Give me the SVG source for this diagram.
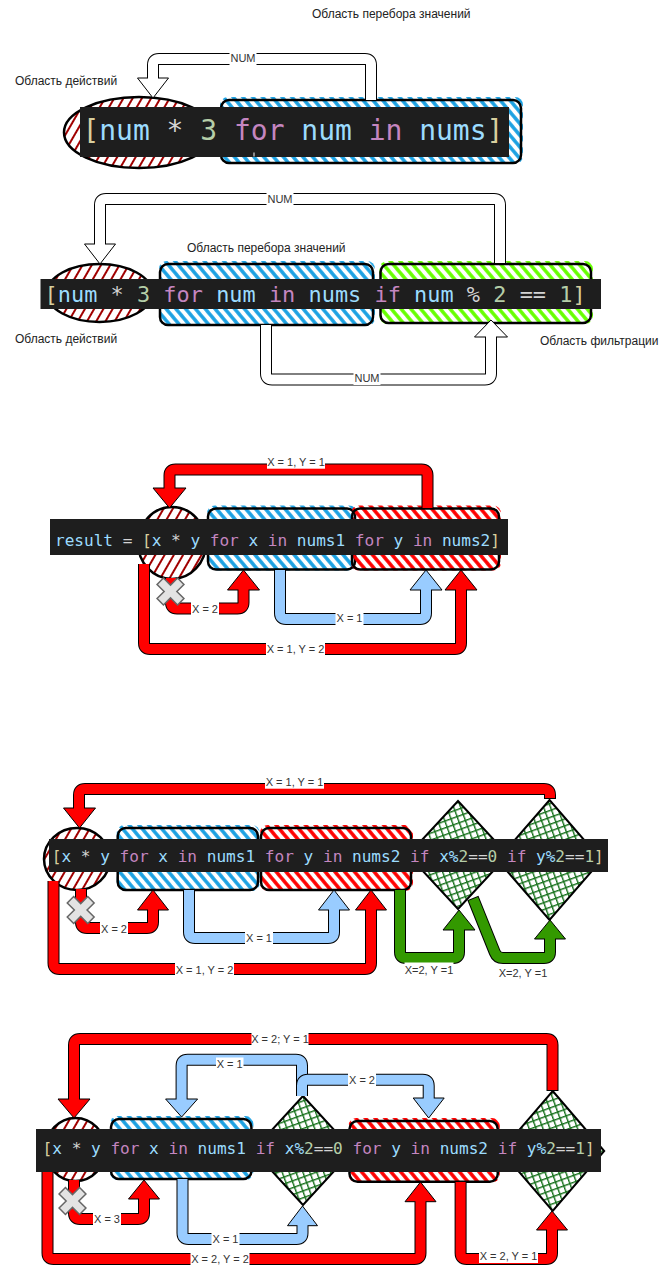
<svg xmlns="http://www.w3.org/2000/svg" xmlns:xlink="http://www.w3.org/1999/xlink" width="668" height="1267" viewBox="0 0 668 1267">
<style>
.cap{font-family:"Liberation Sans",Arial,sans-serif;font-size:12px;fill:#222}
.lt{font-family:"Liberation Sans",Arial,sans-serif;font-size:11px;fill:#333;text-anchor:middle}
.lb{fill:#fff}
.o{fill:none;stroke:#000;stroke-width:12}
.f{fill:none;stroke-width:10}
.fw{stroke:#fff}.fr{stroke:#f00}.fb{stroke:#99ccff}.fg{stroke:#339900}
.hw{fill:#fff;stroke:#000;stroke-width:1}
.hr{fill:#f00;stroke:#000;stroke-width:1}
.hb{fill:#99ccff;stroke:#000;stroke-width:1}
.hg{fill:#339900;stroke:#000;stroke-width:1}
.bd{fill:none;stroke:#000;stroke-width:2.5}
.code{font-family:"DejaVu Sans Mono","Liberation Mono",monospace;white-space:pre}
.cb{fill:#1e1e1e}
.v{fill:#9cdcfe}.k{fill:#c586c0}.op{fill:#d4d4d4}.n{fill:#b5cea8}.b{fill:#d8cf9e}
.xm{fill:#e3e3e3;stroke:#666;stroke-width:1.5}
</style>
<defs>
<pattern id="pr" patternUnits="userSpaceOnUse" width="8" height="8" patternTransform="rotate(30)"><line x1="4" y1="0" x2="4" y2="8" stroke="#a00000" stroke-width="2"/></pattern>
<pattern id="pb" patternUnits="userSpaceOnUse" width="7.5" height="8" patternTransform="rotate(-40)"><line x1="3.75" y1="0" x2="3.75" y2="8" stroke="#1ba1e2" stroke-width="3.5"/></pattern>
<pattern id="pred" patternUnits="userSpaceOnUse" width="7.5" height="8" patternTransform="rotate(-40)"><line x1="3.75" y1="0" x2="3.75" y2="8" stroke="#ff0000" stroke-width="3.5"/></pattern>
<pattern id="pg" patternUnits="userSpaceOnUse" width="7.5" height="8" patternTransform="rotate(-40)"><line x1="3.75" y1="0" x2="3.75" y2="8" stroke="#66ff00" stroke-width="3.5"/></pattern>
<pattern id="px" patternUnits="userSpaceOnUse" width="6.5" height="6.5" patternTransform="rotate(-20)"><path d="M0 0.7H6.5M0.7 0V6.5" stroke="#15701a" stroke-width="1.4" fill="none"/></pattern>
<polygon id="xmark" class="xm" points="-4.5,-14.5 4.5,-14.5 4.5,-4.5 14.5,-4.5 14.5,4.5 4.5,4.5 4.5,14.5 -4.5,14.5 -4.5,4.5 -14.5,4.5 -14.5,-4.5 -4.5,-4.5"/>
</defs>
<rect width="668" height="1267" fill="#fff"/>

<!-- ================= Section 1 ================= -->
<g id="s1-cap-iter"><text class="cap" x="312" y="18">Область перебора значений</text></g>
<g id="s1-cap-act"><text class="cap" x="15" y="85">Область действий</text></g>
<g id="s1-action"><ellipse cx="139" cy="132.5" rx="75" ry="35.5" fill="url(#pr)"/><ellipse cx="139" cy="132.5" rx="75" ry="35.5" class="bd"/></g>
<g id="s1-iter"><rect x="220" y="97" width="303" height="67" rx="8" fill="url(#pb)"/><rect x="221" y="100" width="300" height="63" rx="8" class="bd"/></g>

<!-- ================= Section 2 ================= -->
<g id="s2-cap-iter"><text class="cap" x="187" y="252">Область перебора значений</text></g>
<g id="s2-cap-act"><text class="cap" x="15" y="343">Область действий</text></g>
<g id="s2-cap-filter"><text class="cap" x="540" y="345">Область фильтрации</text></g>
<g id="s2-action"><ellipse cx="99.5" cy="293" rx="52.5" ry="29" fill="url(#pr)"/><ellipse cx="99.5" cy="293" rx="52.5" ry="29" class="bd"/></g>
<g id="s2-iter"><rect x="159" y="261" width="216" height="65" rx="8" fill="url(#pb)"/><rect x="160" y="264" width="213" height="61" rx="8" class="bd"/></g>
<g id="s2-filter"><rect x="379.5" y="261" width="213.5" height="63" rx="8" fill="url(#pg)"/><rect x="380.5" y="264" width="210.5" height="59" rx="8" class="bd"/></g>

<!-- ================= Section 3 ================= -->
<g id="s3-action"><ellipse cx="172" cy="543" rx="34" ry="36" fill="url(#pr)"/><ellipse cx="172" cy="543" rx="34" ry="36" class="bd"/></g>
<g id="s3-iter-x"><rect x="207" y="505.5" width="150" height="65" rx="8" fill="url(#pb)"/><rect x="208" y="508.5" width="147" height="61" rx="8" class="bd"/></g>
<g id="s3-iter-y"><rect x="351" y="505.5" width="150" height="65" rx="8" fill="url(#pred)"/><rect x="352" y="508.5" width="147" height="61" rx="8" class="bd"/></g>

<!-- ================= Section 4 ================= -->
<g id="s4-action"><ellipse cx="77" cy="859" rx="33" ry="31" fill="url(#pr)"/><ellipse cx="77" cy="859" rx="33" ry="31" class="bd"/></g>
<g id="s4-iter-x"><rect x="116.7" y="825" width="143" height="66" rx="8" fill="url(#pb)"/><rect x="117.7" y="828" width="140.3" height="62" rx="8" class="bd"/></g>
<g id="s4-iter-y"><rect x="260" y="825" width="153" height="66" rx="8" fill="url(#pred)"/><rect x="261" y="828" width="150" height="62" rx="8" class="bd"/></g>
<g id="s4-filter-x"><polygon points="458,801 508,855 458,909 408,855" fill="#fff"/><polygon points="458,801 508,855 458,909 408,855" fill="url(#px)" stroke="#000" stroke-width="2"/></g>
<g id="s4-filter-y"><polygon points="549.5,800 601.5,860 549.5,920 497.5,860" fill="#fff"/><polygon points="549.5,800 601.5,860 549.5,920 497.5,860" fill="url(#px)" stroke="#000" stroke-width="2"/></g>

<!-- ================= Section 5 ================= -->
<g id="s5-action"><ellipse cx="75.5" cy="1149.5" rx="30" ry="31.5" fill="url(#pr)"/><ellipse cx="75.5" cy="1149.5" rx="30" ry="31.5" class="bd"/></g>
<g id="s5-iter-x"><rect x="110" y="1116" width="143.4" height="64" rx="8" fill="url(#pb)"/><rect x="111" y="1119" width="140.4" height="60" rx="8" class="bd"/></g>
<g id="s5-filter-x"><polygon points="303,1096 353,1150.5 303,1205 253,1150.5" fill="#fff"/><polygon points="303,1096 353,1150.5 303,1205 253,1150.5" fill="url(#px)" stroke="#000" stroke-width="2"/></g>
<g id="s5-iter-y"><rect x="348.5" y="1118" width="151.3" height="64.7" rx="8" fill="url(#pred)"/><rect x="349.5" y="1121" width="148.3" height="60.7" rx="8" class="bd"/></g>
<g id="s5-filter-y"><polygon points="552.7,1091 604.2,1151 552.7,1211 501.2,1151" fill="#fff"/><polygon points="552.7,1091 604.2,1151 552.7,1211 501.2,1151" fill="url(#px)" stroke="#000" stroke-width="2"/></g>

<!-- ================= Connectors ================= -->
<g id="connectors">
 <!-- S1 NUM -->
 <g><path class="o" d="M371 100 V65 Q371 59 365 59 H159 Q153 59 153 65 V78"/><polygon class="hw" points="137.5,78 168.5,78 153,98"/><path class="f fw" d="M371 100 V65 Q371 59 365 59 H159 Q153 59 153 65 V79.5"/>
 <rect class="lb" x="229.5" y="51" width="27" height="14"/><text class="lt" x="243" y="62">NUM</text></g>
 <!-- S2 top NUM -->
 <g><path class="o" d="M500 263 V205 Q500 199 494 199 H106 Q100 199 100 205 V244"/><polygon class="hw" points="84.5,244 115.5,244 100,264"/><path class="f fw" d="M500 263 V205 Q500 199 494 199 H106 Q100 199 100 205 V245.5"/>
 <rect class="lb" x="266.5" y="192" width="27" height="14"/><text class="lt" x="280" y="203">NUM</text></g>
 <!-- S2 bottom NUM -->
 <g><path class="o" d="M266 325 V373.5 Q266 379.5 272 379.5 H485 Q491 379.5 491 373.5 V337"/><polygon class="hw" points="474.5,337 507.5,337 491,320"/><path class="f fw" d="M266 325 V373.5 Q266 379.5 272 379.5 H485 Q491 379.5 491 373.5 V335.5"/>
 <rect class="lb" x="353.5" y="371" width="27" height="14"/><text class="lt" x="367" y="382">NUM</text></g>

 <!-- S3 -->
 <g><path class="o" d="M427.5 508 V475.5 Q427.5 469.5 421.5 469.5 H175.5 Q169.5 469.5 169.5 475.5 V488"/><polygon class="hr" points="153,488 186,488 169.5,508"/><path class="f fr" d="M427.5 508 V475.5 Q427.5 469.5 421.5 469.5 H175.5 Q169.5 469.5 169.5 475.5 V489.5"/>
 <rect class="lb" x="267" y="455" width="58" height="13.7"/><text class="lt" x="296" y="466">X = 1, Y = 1</text></g>
 <g><path class="o" d="M171 578 V602.5 Q171 608.5 177 608.5 H237.5 Q243.5 608.5 243.5 602.5 V590"/><polygon class="hr" points="227.5,590 259.5,590 243.5,570"/><path class="f fr" d="M171 578 V602.5 Q171 608.5 177 608.5 H237.5 Q243.5 608.5 243.5 602.5 V588.5"/>
 <rect class="lb" x="191" y="602" width="28" height="14"/><text class="lt" x="205" y="613">X = 2</text></g>
 <g><path class="o" d="M280 570 V613 Q280 619 286 619 H420 Q426 619 426 613 V590"/><polygon class="hb" points="410,590 442,590 426,570"/><path class="f fb" d="M280 570 V613 Q280 619 286 619 H420 Q426 619 426 613 V588.5"/>
 <rect class="lb" x="335.5" y="611" width="28" height="14"/><text class="lt" x="349.5" y="622">X = 1</text></g>
 <g><path class="o" d="M144 564 V643 Q144 649 150 649 H455 Q461 649 461 643 V590"/><polygon class="hr" points="445,590 477,590 461,570"/><path class="f fr" d="M144 564 V643 Q144 649 150 649 H455 Q461 649 461 643 V588.5"/>
 <rect class="lb" x="266" y="641.5" width="59" height="14"/><text class="lt" x="295.5" y="652.5">X = 1, Y = 2</text></g>

 <!-- S4 -->
 <g><path class="o" d="M550 799 V795 Q550 789 544 789 H85 Q79 789 79 795 V808"/><polygon class="hr" points="63.5,808 95.5,808 79.5,828"/><path class="f fr" d="M550 798 V795 Q550 789 544 789 H85 Q79 789 79 795 V809.5"/>
 <rect class="lb" x="265" y="775" width="59" height="13.7"/><text class="lt" x="294.5" y="786">X = 1, Y = 1</text></g>
 <g><path class="o" d="M81 889 V922 Q81 928 87 928 H147 Q153 928 153 922 V910"/><polygon class="hr" points="137.5,910 168.5,910 153,890"/><path class="f fr" d="M81 889 V922 Q81 928 87 928 H147 Q153 928 153 922 V908.5"/>
 <rect class="lb" x="100" y="922" width="28" height="14"/><text class="lt" x="114" y="933">X = 2</text></g>
 <g><path class="o" d="M189 890 V932 Q189 938 195 938 H328 Q334 938 334 932 V910"/><polygon class="hb" points="318.5,910 349.5,910 334,890"/><path class="f fb" d="M189 890 V932 Q189 938 195 938 H328 Q334 938 334 932 V908.5"/>
 <rect class="lb" x="245" y="931" width="28" height="14"/><text class="lt" x="259" y="942">X = 1</text></g>
 <g><path class="o" d="M53.5 881 V963 Q53.5 969 59.5 969 H365 Q371 969 371 963 V910"/><polygon class="hr" points="355.5,910 386.5,910 371,890"/><path class="f fr" d="M53.5 881 V963 Q53.5 969 59.5 969 H365 Q371 969 371 963 V908.5"/>
 <rect class="lb" x="175" y="962.5" width="59" height="14"/><text class="lt" x="204.5" y="973.5">X = 1, Y = 2</text></g>
 <g><path class="o" d="M400 890 V952 Q400 958 406 958 H453 Q459 958 459 952 V930"/><polygon class="hg" points="443,930 475,930 459,910"/><path class="f fg" d="M400 890 V952 Q400 958 406 958 H453 Q459 958 459 952 V928.5"/>
 <rect class="lb" x="404.5" y="962.5" width="49" height="14"/><text class="lt" x="429" y="973.5">X=2, Y =1</text></g>
 <g><path class="o" d="M472.9 897.9 L494.8 952.4 Q497 958 503 958 H544 Q550 958 550 952 V939"/><polygon class="hg" points="534.5,939 565.5,939 550,920"/><path class="f fg" d="M473.3 898.8 L494.8 952.4 Q497 958 503 958 H544 Q550 958 550 952 V937.5"/>
 <rect class="lb" x="498.5" y="966" width="49" height="14"/><text class="lt" x="523" y="977">X=2, Y =1</text></g>

 <!-- S5 -->
 <g><path class="o" d="M552.5 1091 V1045 Q552.5 1039 546.5 1039 H80 Q74 1039 74 1045 V1099"/><polygon class="hr" points="58,1099 90,1099 74,1118"/><path class="f fr" d="M552.5 1090 V1045 Q552.5 1039 546.5 1039 H80 Q74 1039 74 1045 V1100.5"/>
 <rect class="lb" x="251.5" y="1032" width="57" height="14"/><text class="lt" x="280" y="1043">X = 2; Y = 1</text></g>
 <g><path class="o" d="M302 1096 V1065.7 Q302 1059.7 296 1059.7 H187.6 Q181.6 1059.7 181.6 1065.7 V1099"/><polygon class="hb" points="165.6,1099 197.6,1099 181.6,1117"/><path class="f fb" d="M302 1096 V1065.7 Q302 1059.7 296 1059.7 H187.6 Q181.6 1059.7 181.6 1065.7 V1100.5"/>
 <rect class="lb" x="216" y="1057.5" width="27.5" height="13.5"/><text class="lt" x="229.7" y="1068.3">X = 1</text></g>
 <g><path class="o" d="M302 1096 V1085.7 Q302 1079.7 308 1079.7 H422.7 Q428.7 1079.7 428.7 1085.7 V1098"/><polygon class="hb" points="413.2,1098 444.2,1098 428.7,1118"/><path class="f fb" d="M302 1096 V1085.7 Q302 1079.7 308 1079.7 H422.7 Q428.7 1079.7 428.7 1085.7 V1099.5"/>
 <rect class="lb" x="348" y="1073" width="28" height="14"/><text class="lt" x="362" y="1084">X = 2</text></g>
 <g><path class="o" d="M74 1180 V1213 Q74 1219 80 1219 H138 Q144 1219 144 1213 V1199"/><polygon class="hr" points="128.5,1199 159.5,1199 144,1180"/><path class="f fr" d="M74 1180 V1213 Q74 1219 80 1219 H138 Q144 1219 144 1213 V1197.5"/>
 <rect class="lb" x="93" y="1212" width="28" height="14"/><text class="lt" x="107" y="1223">X = 3</text></g>
 <g><path class="o" d="M182.5 1179 V1233 Q182.5 1239 188.5 1239 H296.5 Q302.5 1239 302.5 1233 V1225.7"/><polygon class="hb" points="287.5,1225.7 317.5,1225.7 302.5,1206"/><path class="f fb" d="M182.5 1179 V1233 Q182.5 1239 188.5 1239 H296.5 Q302.5 1239 302.5 1233 V1224.2"/>
 <rect class="lb" x="211.5" y="1231.5" width="28" height="14"/><text class="lt" x="225.5" y="1242.5">X = 1</text></g>
 <g><path class="o" d="M47.5 1172 V1253 Q47.5 1259 53.5 1259 H414.5 Q420.5 1259 420.5 1253 V1201.7"/><polygon class="hr" points="405,1201.7 436,1201.7 420.5,1182"/><path class="f fr" d="M47.5 1172 V1253 Q47.5 1259 53.5 1259 H414.5 Q420.5 1259 420.5 1253 V1200.2"/>
 <rect class="lb" x="190.5" y="1252" width="59" height="14"/><text class="lt" x="220" y="1263">X = 2, Y = 2</text></g>
 <g><path class="o" d="M460.6 1182 V1253 Q460.6 1259 466.6 1259 H546 Q552 1259 552 1253 V1230"/><polygon class="hr" points="536.5,1230 567.5,1230 552,1211"/><path class="f fr" d="M460.6 1182 V1253 Q460.6 1259 466.6 1259 H546 Q552 1259 552 1253 V1228.5"/>
 <rect class="lb" x="479" y="1249" width="59" height="14"/><text class="lt" x="508.5" y="1260">X = 2, Y = 1</text></g>
</g>

<!-- ================= Code boxes ================= -->
<g id="s1-code"><rect class="cb" x="80" y="107" width="429" height="50"/><rect x="253" y="152.5" width="2" height="4" fill="#8a8a8a"/>
<text class="code" x="82.4" y="140" font-size="28" textLength="421" lengthAdjust="spacing"><tspan class="b">[</tspan><tspan class="v">num</tspan><tspan class="op"> * </tspan><tspan class="n">3</tspan><tspan class="k"> for </tspan><tspan class="v">num</tspan><tspan class="k"> in </tspan><tspan class="v">nums</tspan><tspan class="b">]</tspan></text></g>
<g id="s2-code"><rect class="cb" x="40.5" y="279" width="560.5" height="30"/>
<text class="code" x="44.6" y="302" font-size="21.9" textLength="541" lengthAdjust="spacing"><tspan class="b">[</tspan><tspan class="v">num</tspan><tspan class="op"> * </tspan><tspan class="n">3</tspan><tspan class="k"> for </tspan><tspan class="v">num</tspan><tspan class="k"> in </tspan><tspan class="v">nums</tspan><tspan class="k"> if </tspan><tspan class="v">num</tspan><tspan class="op"> % </tspan><tspan class="n">2</tspan><tspan class="op"> == </tspan><tspan class="n">1</tspan><tspan class="b">]</tspan></text></g>
<g id="s3-code"><rect class="cb" x="50" y="519" width="458" height="36"/>
<text class="code" x="55" y="545.5" font-size="16.1" textLength="445" lengthAdjust="spacing"><tspan class="v">result</tspan><tspan class="op"> = </tspan><tspan class="b">[</tspan><tspan class="v">x</tspan><tspan class="op"> * </tspan><tspan class="v">y</tspan><tspan class="k"> for </tspan><tspan class="v">x</tspan><tspan class="k"> in </tspan><tspan class="v">nums1</tspan><tspan class="k"> for </tspan><tspan class="v">y</tspan><tspan class="k"> in </tspan><tspan class="v">nums2</tspan><tspan class="b">]</tspan></text></g>
<g id="s4-code"><rect class="cb" x="49" y="839" width="559" height="33"/>
<text class="code" x="51.8" y="862" font-size="16.1" textLength="552" lengthAdjust="spacing"><tspan class="b">[</tspan><tspan class="v">x</tspan><tspan class="op"> * </tspan><tspan class="v">y</tspan><tspan class="k"> for </tspan><tspan class="v">x</tspan><tspan class="k"> in </tspan><tspan class="v">nums1</tspan><tspan class="k"> for </tspan><tspan class="v">y</tspan><tspan class="k"> in </tspan><tspan class="v">nums2</tspan><tspan class="k"> if </tspan><tspan class="v">x%</tspan><tspan class="n">2</tspan><tspan class="op">==</tspan><tspan class="n">0</tspan><tspan class="k"> if </tspan><tspan class="v">y%</tspan><tspan class="n">2</tspan><tspan class="op">==</tspan><tspan class="n">1</tspan><tspan class="b">]</tspan></text></g>
<g id="s5-code"><rect class="cb" x="36" y="1129" width="565" height="43"/>
<text class="code" x="42.6" y="1154" font-size="16.1" textLength="552" lengthAdjust="spacing"><tspan class="b">[</tspan><tspan class="v">x</tspan><tspan class="op"> * </tspan><tspan class="v">y</tspan><tspan class="k"> for </tspan><tspan class="v">x</tspan><tspan class="k"> in </tspan><tspan class="v">nums1</tspan><tspan class="k"> if </tspan><tspan class="v">x%</tspan><tspan class="n">2</tspan><tspan class="op">==</tspan><tspan class="n">0</tspan><tspan class="k"> for </tspan><tspan class="v">y</tspan><tspan class="k"> in </tspan><tspan class="v">nums2</tspan><tspan class="k"> if </tspan><tspan class="v">y%</tspan><tspan class="n">2</tspan><tspan class="op">==</tspan><tspan class="n">1</tspan><tspan class="b">]</tspan></text></g>

<!-- ================= X marks ================= -->
<g id="s3-xmark"><use xlink:href="#xmark" transform="translate(170.5 591.5) rotate(45)"/></g>
<g id="s4-xmark"><use xlink:href="#xmark" transform="translate(80.7 910) rotate(45)"/></g>
<g id="s5-xmark"><use xlink:href="#xmark" transform="translate(72.5 1201) rotate(45)"/></g>
</svg>
